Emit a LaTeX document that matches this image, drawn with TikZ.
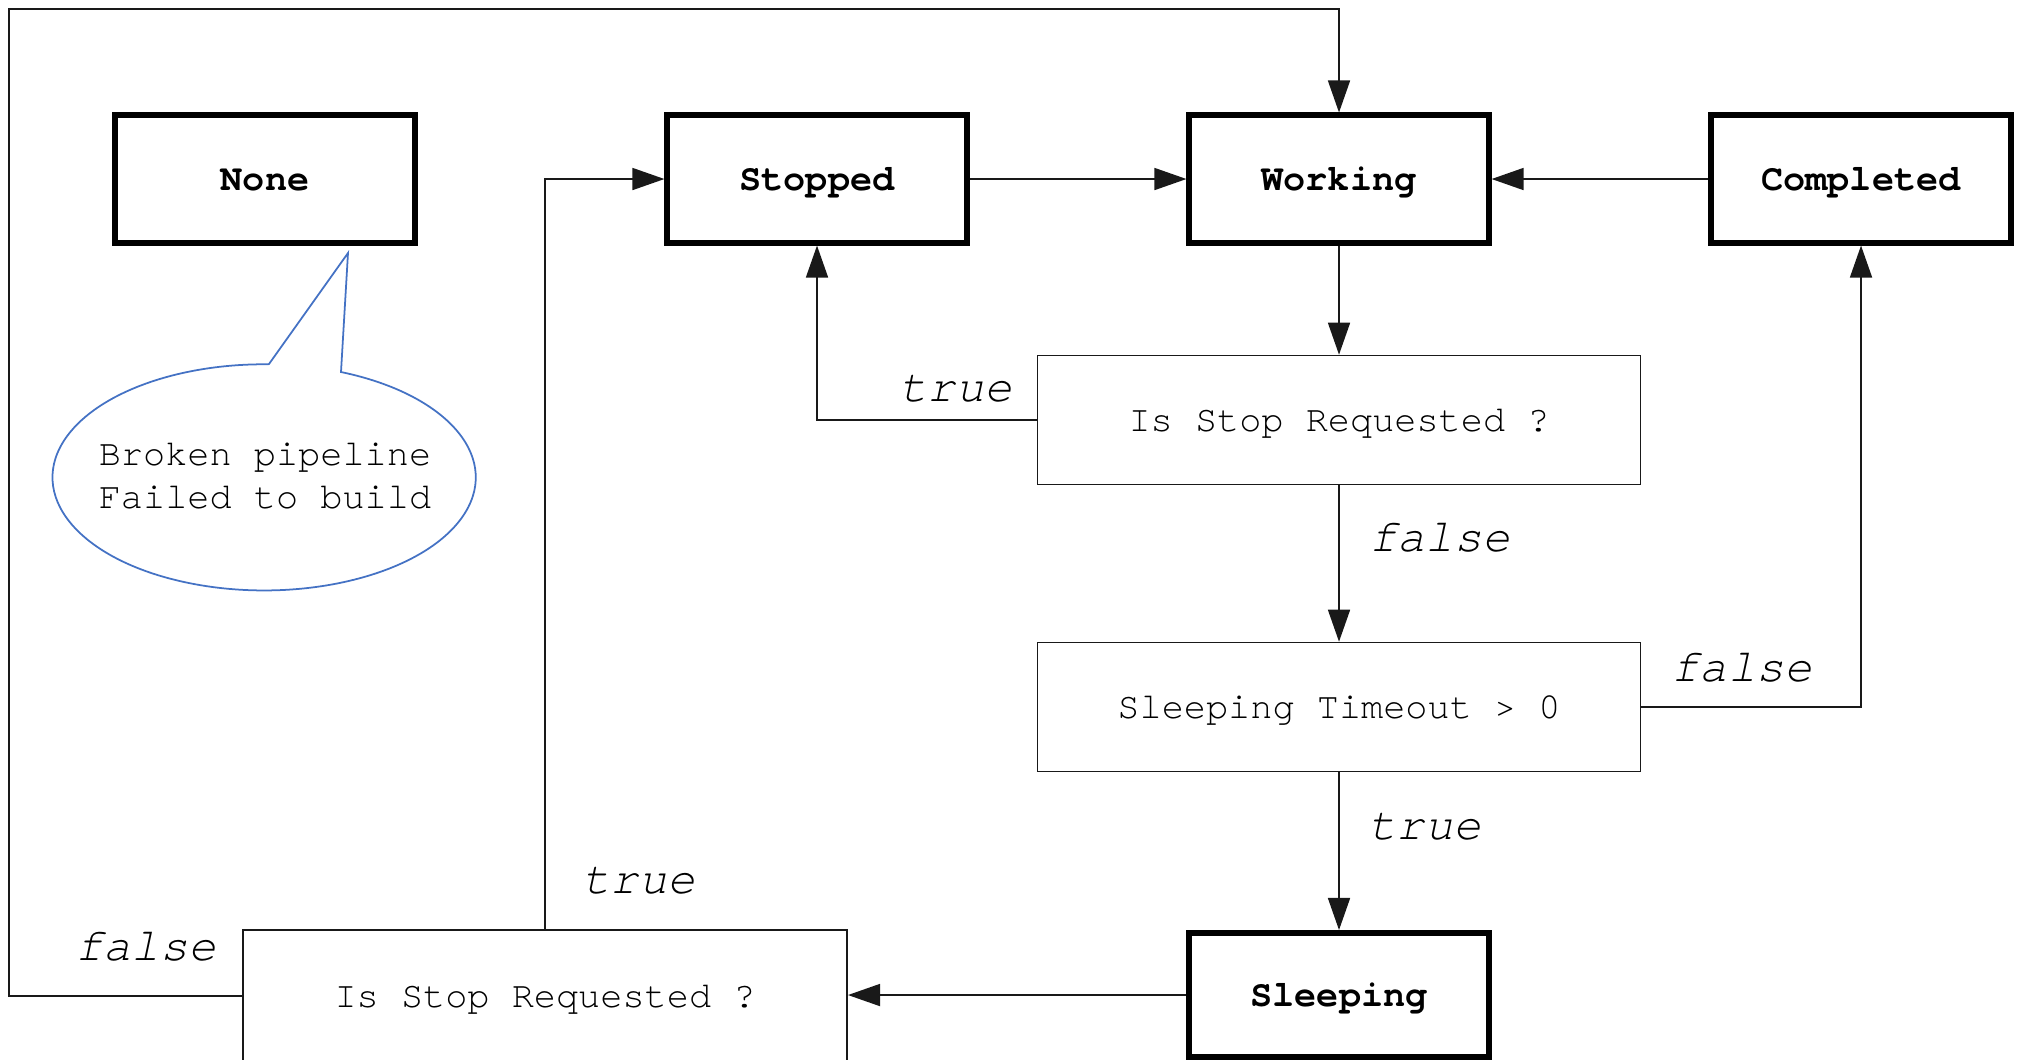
\documentclass[tikz,border=0pt]{standalone}
\usepackage{fontspec}
\newfontfamily\cour{texgyrecursor}[Extension=.otf, UprightFont=*-regular, BoldFont=*-bold, ItalicFont=*-italic, BoldItalicFont=*-bolditalic]
\usetikzlibrary{arrows.meta}
\definecolor{calloutblue}{RGB}{68,114,196}
\definecolor{linegray}{RGB}{25,25,25}
\begin{document}
\begin{tikzpicture}[x=0.01cm,y=-0.01cm,
  statebox/.style={draw=black, line width=1.7pt, minimum width=2.99cm, minimum height=1.27cm,
    inner sep=0pt, text height=8pt, text depth=1.74pt,
    font=\fontsize{10.5}{12.6}\selectfont\cour\bfseries},
  testbox/.style={draw=linegray, line width=0.45pt, minimum width=6.03cm, minimum height=1.29cm,
    inner sep=0pt, text height=8pt, text depth=1.74pt,
    font=\fontsize{10.5}{12.6}\selectfont\cour},
  cond/.style={inner sep=0pt, font=\fontsize{13.3}{16}\selectfont\cour\itshape},
  conn/.style={draw=linegray, line width=0.45pt},
  arr/.style={conn, -{Triangle[length=0.32cm, width=0.22cm]}},
  balloon/.style={draw=calloutblue, line width=0.5pt},
  notetext/.style={align=center, inner sep=0pt, font=\fontsize{10.5}{12.2}\selectfont\cour}]
\useasboundingbox (0,0) rectangle (2019,1059);
\clip (0,0) rectangle (2019,1059);

% state boxes
\node[statebox] (none) at (265,179) {None};
\node[statebox] (stopped) at (817,179) {Stopped};
\node[statebox] (working) at (1339,179) {Working};
\node[statebox] (completed) at (1861,179) {Completed};
\node[statebox, minimum height=1.24cm] (sleeping) at (1339,995) {Sleeping};

% test boxes
\node[testbox] (q1) at (1339,420) {Is Stop Requested ?};
\node[testbox] (q2) at (1339,707) {Sleeping Timeout > 0};
\node[testbox, minimum width=6.04cm, minimum height=1.32cm] (q3) at (545,996) {Is Stop Requested ?};

\coordinate (tl) at (9,9);

% connectors
\draw[arr] (stopped.east) -- (working.west);
\draw[arr] (completed.west) -- (working.east);
\draw[arr] (working.south) -- (q1.north);
\draw[arr] (q1.west) -| (stopped.south);
\draw[arr] (q1.south) -- (q2.north);
\draw[arr] (q2.east) -| (completed.south);
\draw[arr] (q2.south) -- (sleeping.north);
\draw[arr] (sleeping.west) -- (sleeping.west -| q3.east);
\draw[arr] (q3.north) |- (stopped.west);
\draw[arr] (q3.west) -| (tl) -| (working.north);

% condition labels
\node[cond] (t1) at (956,389) {true};
\node[cond] (f1) at (1440,538) {false};
\node[cond] (f2) at (1742,668) {false};
\node[cond] (t2) at (1425,827) {true};
\node[cond] (t3) at (639,881) {true};
\node[cond] (f3) at (146,947) {false};

% callout balloon
\draw[balloon] (269,364) -- (348,253) -- (341,372)
  arc[start angle=68.7, end angle=-271, x radius=2.115cm, y radius=1.13cm] -- cycle;
\node[notetext] (note) at (265,476) {Broken pipeline\\Failed to build};
\end{tikzpicture}
\end{document}
